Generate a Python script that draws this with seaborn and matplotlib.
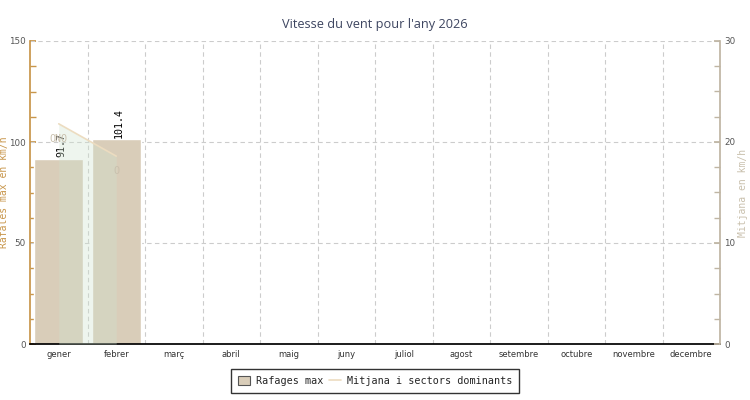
import matplotlib
matplotlib.use("Agg")
import matplotlib.pyplot as plt
import seaborn as sns
import numpy as np
import pandas as pd
from matplotlib.patches import Patch
from matplotlib.lines import Line2D
from matplotlib.ticker import MultipleLocator

months = ["gener", "febrer", "març", "abril", "maig", "juny", "juliol",
          "agost", "setembre", "octubre", "novembre", "decembre"]
gust_max = [91.7, 101.4] + [np.nan] * 10
mean_speed = [21.8, 18.6]
sectors = ["ONO", "O"]

sns.set_theme(style="white")
plt.rcParams['font.family'] = ['DejaVu Sans']

fig = plt.figure(figsize=(7.5, 4), dpi=100)
ax = fig.add_axes([0.04, 0.14, 0.92, 0.7575])

df = pd.DataFrame({"mes": months, "rafega": gust_max})
sns.barplot(data=df, x="mes", y="rafega", order=months, color="#d9cdb9",
            saturation=1, width=0.85, ax=ax, zorder=2)

ax.set_xlim(-0.5, 11.5)
ax.set_ylim(0, 150)
ax.set_xlabel("")
ax.set_ylabel("Rafales max en km/h", family="DejaVu Sans Mono", fontsize=7,
              color="#c8964b")
ax.yaxis.set_label_coords(-0.031, 0.5)
ax.yaxis.set_major_locator(MultipleLocator(50))
ax.yaxis.set_minor_locator(MultipleLocator(12.5))
ax.tick_params(axis="y", which="both", direction="in", colors="#c8964b",
               labelcolor="#555555", labelsize=6.3, length=4, pad=3)
ax.set_xticks(range(12))
ax.set_xticklabels(months, fontsize=6, color="#333333")
ax.set_xticks(np.arange(-0.5, 12, 1), minor=True)
ax.tick_params(axis="x", which="major", length=0, pad=4)
ax.tick_params(axis="x", which="minor", direction="out", length=5,
               color="black", width=1)

ax.grid(False)
for v in [50, 100, 150]:
    ax.axhline(v, color="#cccccc", ls=(0, (4, 3)), lw=0.8, zorder=1)
for xv in np.arange(0.5, 12, 1):
    ax.axvline(xv, color="#cccccc", ls=(0, (4, 3)), lw=0.8, zorder=1)

for s in ["top", "right"]:
    ax.spines[s].set_visible(False)
ax.spines["left"].set_color("#c8964b")
ax.spines["bottom"].set_color("black")

for i, v in enumerate(gust_max):
    if not np.isnan(v):
        ax.text(i + 0.05, v + 0.8, f"{v}", rotation=90, ha="center", va="bottom",
                fontsize=7.2, family="DejaVu Sans Mono", color="black", zorder=5)

ax2 = ax.twinx()
ax2.set_position(ax.get_position())
xs = np.arange(len(mean_speed))
ax2.fill_between(xs, mean_speed, 0, color="#cfe3cf", alpha=0.35, lw=0, zorder=3)
sns.lineplot(x=xs, y=mean_speed, ax=ax2, color="#ecdcc0", lw=1.2, zorder=4)
for i, (v, s) in enumerate(zip(mean_speed, sectors)):
    ax2.text(i, v - 1.5, s, ha="center", va="center", fontsize=7.2,
             family="DejaVu Sans Mono", color="#c9c0ad", zorder=5)
ax2.set_ylim(0, 30)
ax2.set_xlim(-0.5, 11.5)
ax2.yaxis.set_major_locator(MultipleLocator(10))
ax2.yaxis.set_minor_locator(MultipleLocator(2.5))
ax2.tick_params(axis="y", which="both", direction="in", colors="#bfb5a3",
                labelcolor="#555555", labelsize=6.3, length=4, pad=3)
ax2.set_ylabel("Mitjana en km/h", family="DejaVu Sans Mono", fontsize=7,
               color="#c9c0ad")
ax2.yaxis.set_label_coords(1.026, 0.5)
for s in ["top", "left", "bottom"]:
    ax2.spines[s].set_visible(False)
ax2.spines["right"].set_color("#bfb5a3")
ax2.grid(False)

fig.suptitle("Vitesse du vent pour l'any 2026", y=0.955, fontsize=9.2,
             color="#3d4560", family="Open Sans")

handles = [Patch(facecolor="#d9cdb9", edgecolor="#555555", lw=0.8, label="Rafages max"),
           Line2D([0], [0], color="#ecdcc0", lw=1.2, label="Mitjana i sectors dominants")]
leg = fig.legend(handles=handles, loc="center", bbox_to_anchor=(0.5, 0.0475), ncol=2,
                 prop={"family": "DejaVu Sans Mono", "size": 7.3}, frameon=True,
                 fancybox=False, edgecolor="black", handlelength=1.2,
                 handleheight=1.0, columnspacing=0.5, handletextpad=0.6,
                 borderpad=0.7)
leg.get_frame().set_linewidth(1.0)

fig.savefig("out.png", dpi=100, facecolor="white")
